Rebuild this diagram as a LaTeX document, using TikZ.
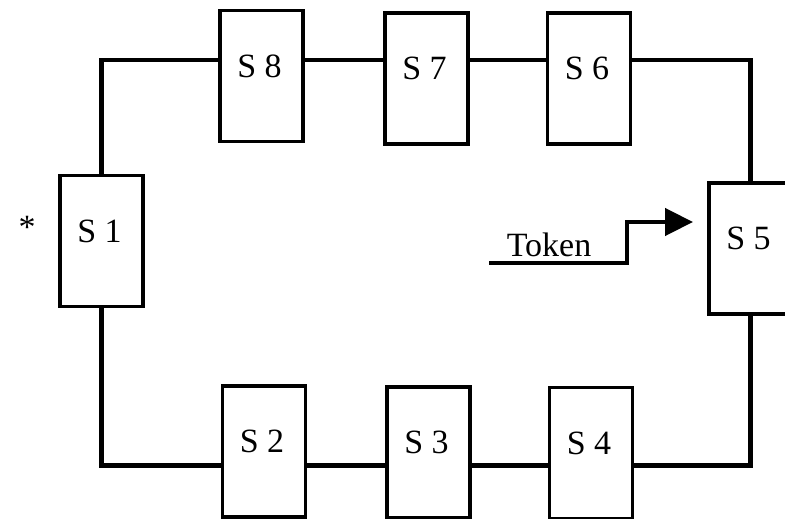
\documentclass[tikz,border=0pt]{standalone}
\usepackage{fontspec}
\setmainfont{Liberation Serif}
\usetikzlibrary{arrows.meta}
\begin{document}
\begin{tikzpicture}[x=1pt,y=-1pt,
  stbox/.style={draw, line width=3.5pt, minimum width=83pt, minimum height=131pt, inner sep=0pt, outer sep=0pt},
  stlbl/.style={font=\fontsize{34}{40}\selectfont, inner sep=0pt},
  wire/.style={line width=4.5pt},
  ]
\useasboundingbox (0,0) rectangle (785,519);
\clip (0,0) rectangle (785,519);
\node[stbox] (s1) at (101.5,241) {};
\node[stbox] (s8) at (261.5,76) {};
\node[stbox] (s7) at (426.5,78.5) {};
\node[stbox] (s6) at (589,78.5) {};
\node[stbox] (s5) at (750.5,248.5) {};
\node[stbox] (s4) at (591,453) {};
\node[stbox] (s2) at (264,451.5) {};
\node[stbox] (s3) at (428.5,452.5) {};
\foreach \n/\t in {s1/S 1,s2/S 2,s3/S 3,s4/S 4,s5/S 5,s6/S 6,s7/S 7,s8/S 8}
  \node[stlbl] (\n-t) at ([xshift=-2,yshift=10]\n.center) {\t};
\node[stlbl] (star) at (27,227) {*};
\coordinate (tl) at (s1.north |- 0,60);
\coordinate (tr) at (s5.north |- tl);
\coordinate (bl) at (s1.south |- 0,465.5);
\coordinate (br) at (s5.south |- bl);
\draw[wire] (s1.north) -- (tl) -- (tl -| s8.west);
\draw[wire] (s8.east |- tl) -- (tl -| s7.west);
\draw[wire] (s7.east |- tl) -- (tl -| s6.west);
\draw[wire] (s6.east |- tl) -- (tr) -- (s5.north);
\draw[wire] (s1.south) -- (bl) -- (bl -| s2.west);
\draw[wire] (s2.east |- bl) -- (bl -| s3.west);
\draw[wire] (s3.east |- bl) -- (bl -| s4.west);
\draw[wire] (s4.east |- bl) -- (br) -- (s5.south);
\coordinate (tk0) at (489,263);
\coordinate (tk1) at (627,263);
\coordinate (tk2) at (627,222);
\coordinate (tk3) at (693,222);
\draw[wire, -{Triangle[length=28pt,width=27pt]}] (tk0) -- (tk1) -- (tk2) -- (tk3);
\node[stlbl, anchor=base] (token) at (549,256) {Token};
\end{tikzpicture}
\end{document}
